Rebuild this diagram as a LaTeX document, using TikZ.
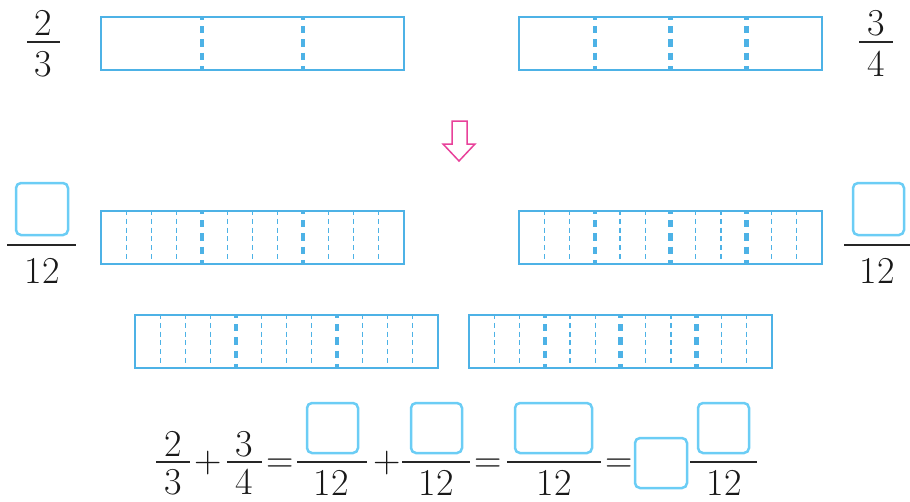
\documentclass[tikz,border=0pt]{standalone}
\usepackage{tikz}
\definecolor{barblue}{HTML}{4DB2E6}
\definecolor{boxblue}{HTML}{6BCDF5}
\definecolor{arrowpink}{HTML}{E8419A}
\tikzset{
  rectline/.style={draw=barblue, line width=2pt},
  thickdiv/.style={draw=barblue, line width=4.5pt, dash pattern=on 7.25pt off 6pt, dash phase=4.25pt},
  thindiv/.style={draw=barblue, line width=1.1pt, dash pattern=on 5pt off 3.8pt, dash phase=1pt},
  ansbox/.style={draw=boxblue, line width=2.5pt, rounded corners=5pt},
  fbar/.style={draw=black!85, line width=1.3pt},
  num/.style={font=\fontsize{38}{40}\selectfont, inner sep=0pt, anchor=base, text=black!90},
}
\newcommand\partbar[5]{% #1 name, #2 x0, #3 y0, #4 parts, #5 thick every
  \draw[rectline] (#2,#3) rectangle ++(303,53);
  \coordinate (#1) at (#2+151.5,#3+26.5);
  \foreach \i in {1,...,\numexpr#4-1\relax}{
    \pgfmathsetmacro\xx{#2+\i*303/#4}
    \pgfmathtruncatemacro\rr{mod(\i,#5)}
    \ifnum\rr=0
      \draw[thickdiv] (\xx,#3) -- (\xx,#3+53);
    \else
      \draw[thindiv] (\xx,#3) -- (\xx,#3+53);
    \fi
  }
}
\begin{document}
\begin{tikzpicture}[x=1pt,y=-1pt]
\useasboundingbox (0,0) rectangle (910,501);
% top bars
\partbar{b1}{101}{17}{3}{1}
\partbar{b2}{519}{17}{4}{1}
% top fractions
\node[num] (n23) at (43,35) {2};
\draw[fbar] (27,42) -- (60,42);
\node[num] (d23) at (43,76) {3};
\node[num] (n34) at (876,35) {3};
\draw[fbar] (859,42) -- (893,42);
\node[num] (d34) at (876,76) {4};
% arrow
\draw[draw=arrowpink, line width=1.5pt, line join=miter]
  (452,121) -- (467,121) -- (467,144) -- (475,144) -- (459,161) -- (443,144) -- (452,144) -- cycle;
% row 2
\partbar{b3}{101}{211}{12}{4}
\partbar{b4}{519}{211}{12}{3}
\draw[ansbox] (16,183) rectangle (68,235);
\draw[fbar] (7,245) -- (76,245);
\node[num] (d12a) at (42,283) {12};
\draw[ansbox] (853,183) rectangle (904,235);
\draw[fbar] (844,245) -- (910,245);
\node[num] (d12b) at (877,283) {12};
% row 3
\partbar{b5}{135}{315}{12}{4}
\partbar{b6}{469}{315}{12}{3}
% equation
\node[num] (e1n) at (173,456) {2};
\draw[fbar] (156,462) -- (190,462);
\node[num] (e1d) at (173,494) {3};
\node[num] (p1) at (208,472) {+};
\node[num] (e2n) at (244,456) {3};
\draw[fbar] (227,462) -- (262,462);
\node[num] (e2d) at (244,494) {4};
\node[num] (q1) at (280,472) {=};
\draw[ansbox] (307,403) rectangle (358,453);
\draw[fbar] (297,462) -- (367,462);
\node[num] (e3d) at (331,495) {12};
\node[num] (p2) at (387,472) {+};
\draw[ansbox] (411,403) rectangle (462,453);
\draw[fbar] (402,462) -- (470,462);
\node[num] (e4d) at (436,495) {12};
\node[num] (q2) at (488,472) {=};
\draw[ansbox] (515,403) rectangle (592,453);
\draw[fbar] (507,462) -- (601,462);
\node[num] (e5d) at (554,495) {12};
\node[num] (q3) at (619,472) {=};
\draw[ansbox] (635,438) rectangle (687,488);
\draw[ansbox] (698,403) rectangle (749,453);
\draw[fbar] (690,462) -- (757,462);
\node[num] (e6d) at (724,495) {12};
\end{tikzpicture}
\end{document}
